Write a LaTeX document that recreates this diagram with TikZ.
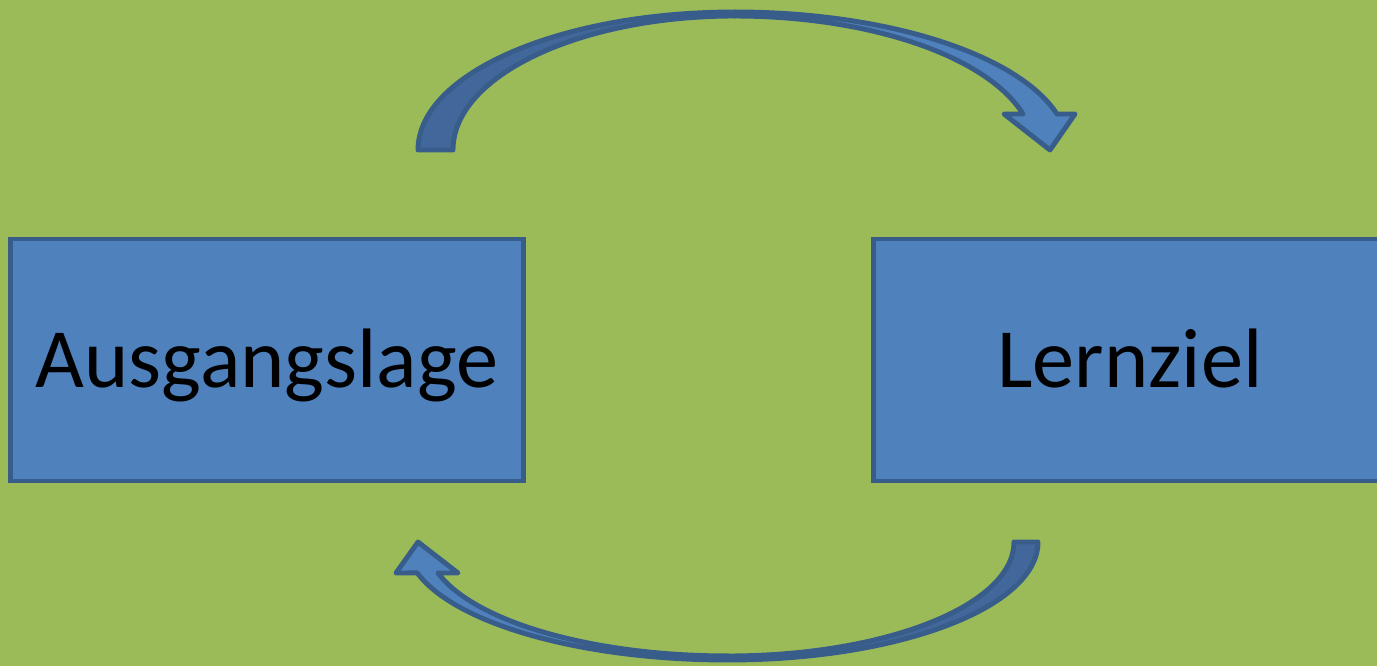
\documentclass[tikz,border=0pt]{standalone}
\usepackage{fontspec}
\setmainfont{Carlito}
\usepackage{tikz}
\usetikzlibrary{positioning}
\definecolor{slidegreen}{RGB}{155,187,89}
\definecolor{boxblue}{RGB}{79,129,189}
\definecolor{boxedge}{RGB}{56,93,138}
\definecolor{bandshade}{RGB}{66,103,155}
\tikzset{box/.style = {draw = boxedge, fill = boxblue, line width = 2.8pt,
                       minimum width = 10.28cm, minimum height = 4.84cm, inner sep = 0,
                       font = \fontsize{48}{58}\selectfont, text height = 31pt, text depth = 0pt}}
\tikzset{band/.style = {draw = boxedge, line width = 2.8pt, line join = round}}
\begin{document}
\begin{tikzpicture}[x = 0.02cm, y = 0.02cm]
      \clip (0, 0) rectangle (1377, 666);
      \fill [slidegreen] (0, 0) rectangle (1377, 666);
      \node [box] (start) at (267, 306) {Ausgangslage};
      \node [box] (goal) at (1130, 306) {Lernziel};
      \filldraw [band, fill = bandshade] (418, 516) arc [start angle = 180, end angle = 90, x radius = 317, y radius = 138]
            -- (735, 650) arc [start angle = 90, end angle = 180, x radius = 282, y radius = 134] -- cycle;
      \filldraw [band, fill = boxblue] (735, 654) arc [start angle = 90, end angle = 15.1, x radius = 333.5, y radius = 138]
            -- (1075, 552) -- (1050, 516) -- (1004, 552) -- (1023, 552)
            arc [start angle = 15.6, end angle = 90, x radius = 299, y radius = 134] -- cycle;
      \filldraw [band, fill = bandshade] (1038, 124) arc [start angle = 0, end angle = -90, x radius = 310, y radius = 118]
            -- (728, 10) arc [start angle = -90, end angle = 0, x radius = 286, y radius = 114] -- cycle;
      \filldraw [band, fill = boxblue] (728, 6) arc [start angle = 270, end angle = 195.2, x radius = 322, y radius = 118]
            -- (396, 93) -- (418, 124) -- (458, 93) -- (438, 93)
            arc [start angle = 195.8, end angle = 270, x radius = 301, y radius = 114] -- cycle;
    \end{tikzpicture}
\end{document}
